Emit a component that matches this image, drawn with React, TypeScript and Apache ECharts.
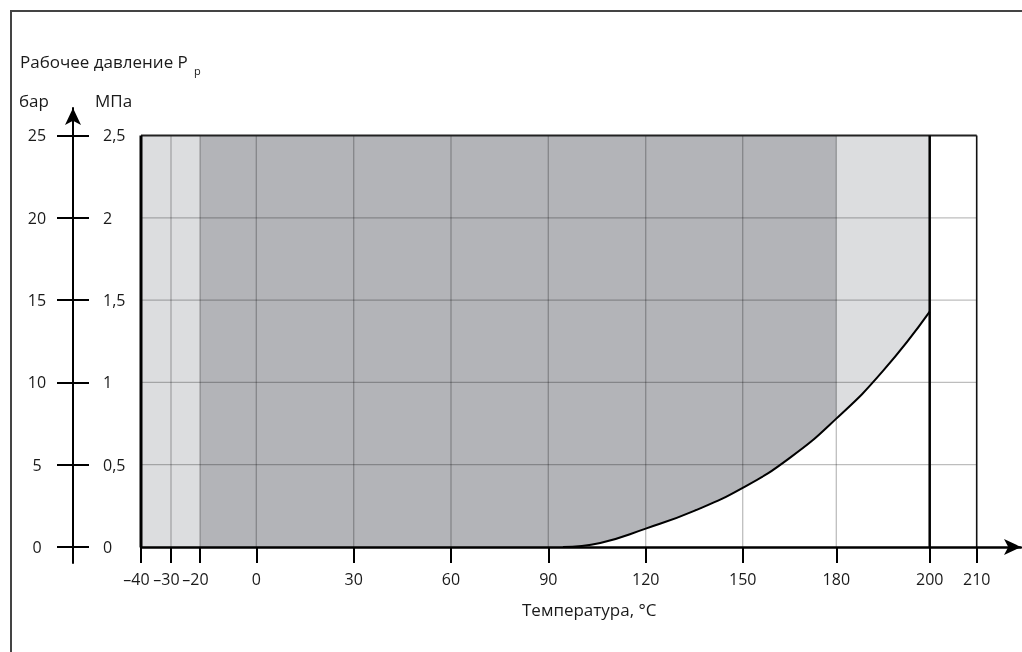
import React, { useEffect, useRef } from 'react';
import * as echarts from 'echarts';

// ---- data ----
const tempTicks = [-40, -30, -20, 0, 30, 60, 90, 120, 150, 180, 200, 210];
const tempTickLabels = ['–40', '–30', '–20', '0', '30', '60', '90', '120', '150', '180', '200', '210'];
const barTicks = [0, 5, 10, 15, 20, 25];
const mpaTicks = [0, 0.5, 1, 1.5, 2, 2.5];
const mpaTickLabels = ['0', '0,5', '1', '1,5', '2', '2,5'];
const curveTemps = [94.5, 106, 120, 135, 150, 165, 180, 190, 200];
const curveBar = [0, 0.25, 1.12, 2.2, 3.6, 5.4, 7.8, 10.7, 14.3];
const lightZone = [-40, 200];
const darkZone = [-20, 180];
const pressureTop = 25;
const vGridTemps = [-30, -20, 0, 30, 60, 90, 120, 150, 180];
const hGridBar = [5, 10, 15, 20];

// ---- layout: the temperature axis is schematic (non-uniform spacing between ticks) ----
const TICK_UNITS = [0, 30, 59, 115.3, 212.7, 310, 407.3, 504.7, 601.7, 695.3, 788.7, 835.7];
const X_MAX = 880;
const Y_MIN = -0.97;
const Y_MAX = 26.67;
const FONT = 'Open Sans';
const TXT = '#1a1a1a';

function xPos(t: number): number {
  const n = tempTicks.length;
  for (let i = 0; i < n - 1; i++) {
    const a = tempTicks[i], b = tempTicks[i + 1];
    if (t <= b || i === n - 2) {
      return TICK_UNITS[i] + ((t - a) / (b - a)) * (TICK_UNITS[i + 1] - TICK_UNITS[i]);
    }
  }
  return 0;
}

function segSeries(segs: number[][], stroke: string, width: number, z: number) {
  return {
    type: 'custom',
    z,
    silent: true,
    encode: { x: [0, 2], y: [1, 3] },
    data: segs,
    renderItem: (_p: any, api: any) => {
      const a = api.coord([api.value(0), api.value(1)]);
      const b = api.coord([api.value(2), api.value(3)]);
      return {
        type: 'line',
        shape: { x1: a[0], y1: a[1], x2: b[0], y2: b[1] },
        style: { stroke, lineWidth: width, fill: null },
      };
    },
  };
}

export default function App() {
  const ref = useRef<HTMLDivElement>(null);
  useEffect(() => {
    if (!ref.current) return;
    const chart = echarts.init(ref.current, undefined, { renderer: 'svg' });
    const x0 = xPos(tempTicks[0]);
    const xEnd = xPos(tempTicks[tempTicks.length - 1]);
    const curve = curveTemps.map((t, i) => [xPos(t), curveBar[i]]);
    const tickUnits = tempTicks.map((t) => xPos(t));

    const option: any = {
      animation: false,
      textStyle: { fontFamily: FONT },
      grid: { left: 141, right: 1, top: 108, bottom: 89, containLabel: false },
      xAxis: {
        type: 'value',
        min: 0,
        max: X_MAX,
        z: 10,
        axisLine: {
          onZero: true,
          lineStyle: { color: '#000', width: 2.5 },
          symbol: ['none', 'arrow'],
          symbolSize: [12, 17],
        },
        axisTick: { customValues: tickUnits, length: 16, lineStyle: { color: '#000', width: 2 } },
        axisLabel: {
          customValues: tickUnits,
          margin: 8,
          fontSize: 16,
          color: TXT,
          fontFamily: FONT,
          formatter: (v: number) => {
            const i = tickUnits.findIndex((u) => Math.abs(u - v) < 0.01);
            const s = i >= 0 ? tempTickLabels[i] : '';
            return tempTicks[i] < 0 ? '{n|' + s + '}' : s;
          },
          rich: { n: { padding: [0, 9, 0, 0], fontSize: 16, color: TXT, fontFamily: FONT } },
        },
        splitLine: { show: false },
      },
      yAxis: [
        {
          type: 'value',
          min: Y_MIN,
          max: Y_MAX,
          position: 'left',
          offset: 68,
          z: 10,
          axisLine: {
            show: true,
            onZero: false,
            lineStyle: { color: '#000', width: 2 },
            symbol: ['none', 'arrow'],
            symbolSize: [12, 17],
          },
          axisTick: { show: true, customValues: barTicks, length: 16, lineStyle: { color: '#000', width: 2 } },
          axisLabel: { customValues: barTicks, margin: 36, align: 'center', fontSize: 16, color: TXT, fontFamily: FONT },
          splitLine: { show: false },
        },
        {
          type: 'value',
          min: Y_MIN / 10,
          max: Y_MAX / 10,
          position: 'left',
          offset: 68,
          z: 10,
          axisLine: { show: false, onZero: false },
          axisTick: { show: true, inside: true, customValues: mpaTicks, length: 16, lineStyle: { color: '#000', width: 2 } },
          axisLabel: {
            inside: true,
            customValues: mpaTicks,
            margin: 30,
            fontSize: 16,
            color: TXT,
            fontFamily: FONT,
            formatter: (v: number) => {
              const i = mpaTicks.findIndex((u) => Math.abs(u - v) < 1e-6);
              return i >= 0 ? mpaTickLabels[i] : '';
            },
          },
          splitLine: { show: false },
        },
      ],
      series: [
        {
          type: 'line',
          z: 1,
          silent: true,
          symbol: 'none',
          lineStyle: { width: 0 },
          areaStyle: { color: '#dcdddf', opacity: 1 },
          data: [[xPos(lightZone[0]), pressureTop], [xPos(lightZone[1]), pressureTop]],
        },
        {
          type: 'line',
          z: 2,
          silent: true,
          symbol: 'none',
          lineStyle: { width: 0 },
          areaStyle: { color: '#b3b4b8', opacity: 1 },
          data: [[xPos(darkZone[0]), pressureTop], [xPos(darkZone[1]), pressureTop]],
        },
        {
          type: 'line',
          z: 3,
          silent: true,
          symbol: 'none',
          smooth: 0.5,
          lineStyle: { width: 0 },
          areaStyle: { color: '#ffffff', opacity: 1 },
          data: curve,
        },
        segSeries(vGridTemps.map((t) => [xPos(t), 0, xPos(t), pressureTop]), 'rgba(0,0,0,0.26)', 1.3, 4),
        segSeries(hGridBar.map((p) => [x0, p, xEnd, p]), 'rgba(0,0,0,0.26)', 1.3, 4),
        {
          type: 'line',
          z: 5,
          silent: true,
          symbol: 'none',
          smooth: 0.5,
          lineStyle: { width: 2, color: '#000' },
          data: curve,
        },
        segSeries([[x0, pressureTop, xEnd, pressureTop]], '#222', 2, 6),
        segSeries([[x0, 0, x0, pressureTop]], '#000', 3, 6),
        segSeries([[xPos(200), 0, xPos(200), pressureTop]], '#000', 2.5, 6),
        segSeries([[xEnd, 0, xEnd, pressureTop]], '#111', 1.6, 6),
      ],
      graphic: [
        {
          type: 'rect',
          silent: true,
          shape: { x: 11, y: 11, width: 1200, height: 1000 },
          style: { fill: 'none', stroke: '#444', lineWidth: 2 },
        },
        {
          type: 'text',
          x: 20,
          y: 61,
          style: { text: 'Рабочее давление P', fontSize: 17, fontFamily: FONT, fill: TXT, verticalAlign: 'middle' },
        },
        {
          type: 'text',
          x: 194,
          y: 70,
          style: { text: 'p', fontSize: 11, fontFamily: FONT, fill: TXT, verticalAlign: 'middle' },
        },
        {
          type: 'text',
          x: 19,
          y: 100,
          style: { text: 'бар', fontSize: 17, fontFamily: FONT, fill: TXT, verticalAlign: 'middle' },
        },
        {
          type: 'text',
          x: 95,
          y: 100,
          style: { text: 'МПа', fontSize: 17, fontFamily: FONT, fill: TXT, verticalAlign: 'middle' },
        },
        {
          type: 'text',
          x: 777,
          y: 499,
          style: { text: 'Пар', fontSize: 17, fontFamily: FONT, fill: TXT, verticalAlign: 'middle' },
        },
        {
          type: 'text',
          x: 522,
          y: 609,
          style: { text: 'Температура, °C', fontSize: 17, fontFamily: FONT, fill: TXT, verticalAlign: 'middle' },
        },
      ],
    };
    chart.setOption(option);
    return () => chart.dispose();
  }, []);
  return <div ref={ref} style={{ position: 'fixed', left: 0, top: 0, width: 1022, height: 652 }} />;
}
